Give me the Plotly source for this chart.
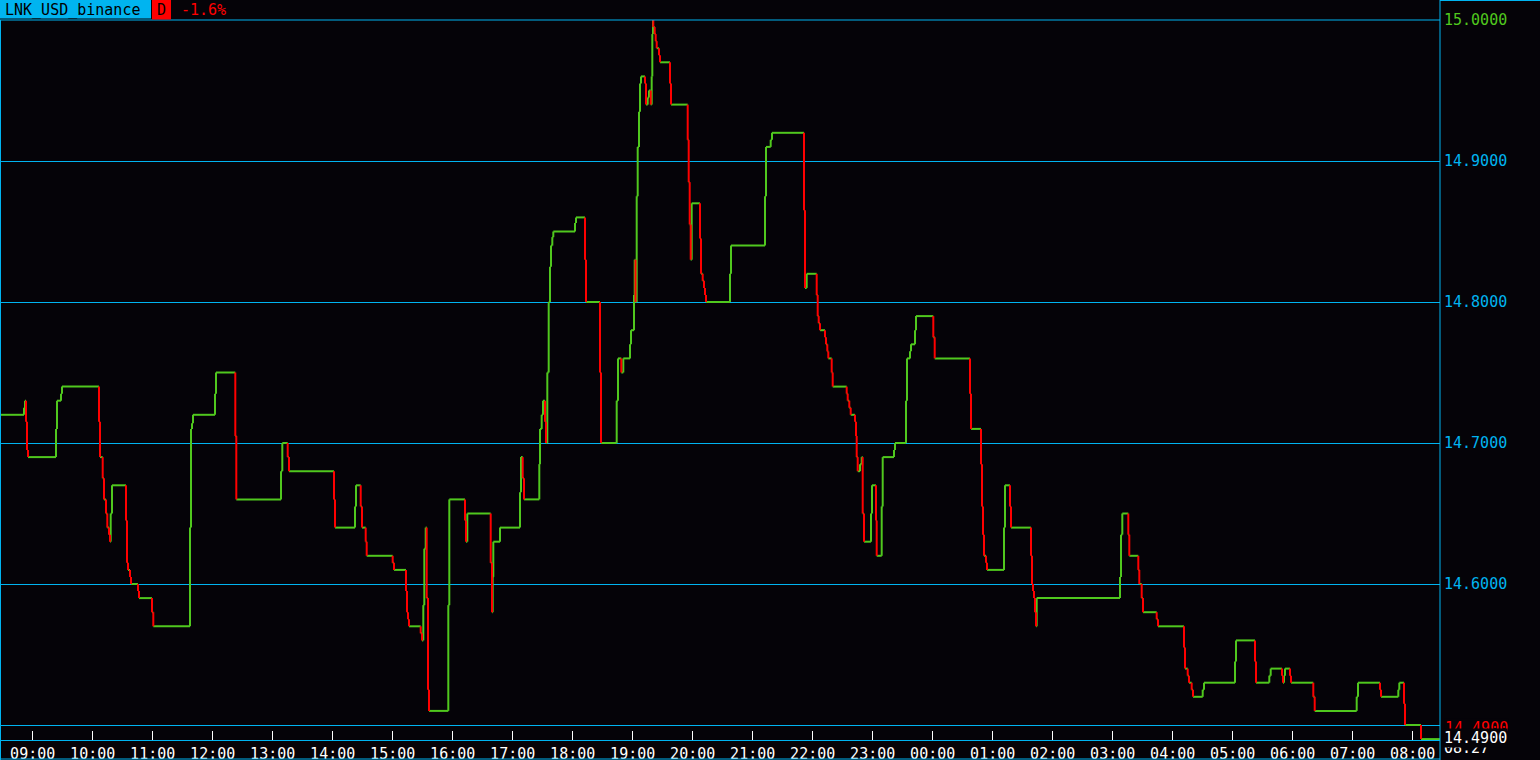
import datetime as dt
import plotly.graph_objects as go

# ---------------- data ----------------
SYMBOL = "LNK_USD_binance"
PERIOD = "D"
CHANGE = "-1.6%"
START_DAY = "2024-05-14"
WINDOW = ["2024-05-14 08:28:18", "2024-05-15 08:27:18"]
LAST_PRICE_LABEL = "14.4900"
LAST_TIME_LABEL = "08:27"

times = [
    "08:28:18", "08:51:18", "08:52:18", "08:53:18", "08:54:18", "08:55:18", "09:23:18", "09:24:18", "09:28:18", "09:29:18",
    "10:06:18", "10:07:18", "10:10:00", "10:11:18", "10:13:18", "10:14:36", "10:16:18", "10:17:18", "10:18:00", "10:19:18",
    "10:33:18", "10:34:18", "10:35:18", "10:37:18", "10:38:18", "10:45:18", "10:46:18", "10:59:18", "11:00:36",
    "11:37:18", "11:38:18", "11:39:18", "11:40:18", "12:02:18", "12:03:18", "12:22:36", "12:23:36",
    "13:08:18", "13:09:36", "13:15:00", "13:16:18",
    "14:01:18", "14:02:18", "14:22:18", "14:23:18", "14:28:00", "14:29:18", "14:33:00", "14:34:00",
    "15:00:00", "15:01:18", "15:13:18", "15:14:18", "15:15:18", "15:16:18",
    "15:28:00", "15:29:18", "15:30:36", "15:31:36", "15:33:00", "15:34:00", "15:35:18", "15:36:18",
    "15:55:36", "15:56:36", "16:12:18", "16:13:18", "16:14:36",
    "16:38:00", "16:39:18", "16:40:00", "16:40:36", "16:47:18",
    "17:07:18", "17:08:18", "17:10:00", "17:11:18",
    "17:26:36", "17:27:18", "17:29:00", "17:30:18", "17:32:18", "17:33:18", "17:34:36", "17:36:00", "17:37:18", "17:38:18", "17:39:36", "17:40:36",
    "18:02:18", "18:03:18", "18:12:18", "18:13:18", "18:27:18", "18:28:18",
    "18:44:00", "18:45:18", "18:48:36", "18:50:36",
    "18:57:18", "18:58:18", "19:01:18", "19:02:00", "19:02:48", "19:04:00", "19:05:00", "19:06:18", "19:07:18", "19:08:18",
    "19:12:18", "19:13:18", "19:15:00", "19:16:18", "19:18:00", "19:19:00", "19:19:36", "19:20:18", "19:20:36", "19:22:00", "19:23:00", "19:24:00", "19:26:18", "19:27:18",
    "19:37:18", "19:38:18",
    "19:55:00", "19:56:00", "19:57:00", "19:58:00", "19:59:00",
    "20:07:18", "20:08:18", "20:10:00", "20:11:18", "20:12:18", "20:13:18",
    "20:37:18", "20:38:18",
    "21:12:18", "21:13:18", "21:18:00", "21:19:18",
    "21:51:18", "21:52:18", "21:54:00",
    "22:04:00", "22:05:00", "22:06:00", "22:07:18", "22:12:18", "22:13:18", "22:14:36", "22:15:36", "22:19:00", "22:20:00",
    "22:34:00", "22:35:00", "22:36:36", "22:38:00", "22:42:18", "22:43:18", "22:44:00", "22:45:00", "22:47:18", "22:49:00", "22:50:00", "22:51:18", "22:58:18", "22:59:18",
    "23:03:18", "23:04:00", "23:09:00", "23:10:00", "23:21:18", "23:22:18", "23:33:18", "23:34:18", "23:37:18", "23:38:18", "23:42:18", "23:43:18",
    "00:00:36", "00:02:00",
    "00:37:18", "00:38:18", "00:48:18", "00:49:18", "00:50:18", "00:51:18", "00:53:18", "00:54:18",
    "01:11:18", "01:12:18", "01:17:18", "01:18:18",
    "01:38:18", "01:39:18", "01:40:18", "01:41:18", "01:42:18", "01:43:18", "01:44:00",
    "03:07:18", "03:08:18", "03:09:36", "03:15:36", "03:16:36", "03:25:36", "03:26:36", "03:29:00", "03:30:18",
    "03:44:00", "03:45:18",
    "04:11:18", "04:12:18", "04:15:00", "04:16:18", "04:19:00", "04:20:18", "04:30:00", "04:31:18",
    "05:02:18", "05:03:18", "05:22:18", "05:23:18", "05:36:36", "05:38:00", "05:49:18", "05:50:18", "05:51:18", "05:52:18", "05:57:18", "05:58:18",
    "06:20:36", "06:22:00", "07:04:00", "07:05:18", "07:27:18", "07:28:18", "07:45:36", "07:46:36", "07:51:18", "07:52:18", "08:08:18", "08:27:18",
]

prices = [
    14.720, 14.725, 14.730, 14.715, 14.695, 14.690, 14.710, 14.730, 14.735, 14.740,
    14.715, 14.690, 14.675, 14.660, 14.650, 14.640, 14.635, 14.630, 14.650, 14.670,
    14.645, 14.615, 14.610, 14.605, 14.600, 14.595, 14.590, 14.580, 14.570,
    14.640, 14.710, 14.714, 14.720, 14.735, 14.750, 14.705, 14.660,
    14.680, 14.700, 14.690, 14.680,
    14.660, 14.640, 14.655, 14.670, 14.655, 14.640, 14.630, 14.620,
    14.615, 14.610, 14.595, 14.580, 14.575, 14.570,
    14.565, 14.560, 14.585, 14.625, 14.640, 14.590, 14.525, 14.510,
    14.585, 14.660, 14.645, 14.630, 14.650,
    14.615, 14.580, 14.605, 14.630, 14.640,
    14.665, 14.690, 14.675, 14.660,
    14.685, 14.710, 14.720, 14.730, 14.715, 14.700, 14.750, 14.800, 14.825, 14.840, 14.846, 14.850,
    14.856, 14.860, 14.830, 14.800, 14.750, 14.700,
    14.730, 14.760, 14.750, 14.760,
    14.770, 14.780, 14.805, 14.830, 14.800, 14.875, 14.910, 14.935, 14.955, 14.960,
    14.955, 14.940, 14.945, 14.950, 14.940, 14.960, 14.990, 15.000, 14.995, 14.990, 14.985, 14.980, 14.975, 14.970,
    14.955, 14.940,
    14.915, 14.885, 14.855, 14.830, 14.870,
    14.845, 14.820, 14.815, 14.810, 14.805, 14.800,
    14.820, 14.840,
    14.875, 14.910, 14.915, 14.920,
    14.865, 14.810, 14.820,
    14.805, 14.790, 14.785, 14.780, 14.775, 14.770, 14.765, 14.760, 14.750, 14.740,
    14.735, 14.730, 14.725, 14.720, 14.715, 14.705, 14.690, 14.680, 14.685, 14.690, 14.650, 14.630, 14.650, 14.670,
    14.645, 14.620, 14.655, 14.690, 14.695, 14.700, 14.730, 14.760, 14.765, 14.770, 14.780, 14.790,
    14.775, 14.760,
    14.735, 14.710, 14.685, 14.655, 14.635, 14.620, 14.615, 14.610,
    14.640, 14.670, 14.655, 14.640,
    14.620, 14.600, 14.595, 14.590, 14.580, 14.570, 14.590,
    14.605, 14.635, 14.650, 14.635, 14.620, 14.610, 14.600, 14.590, 14.580,
    14.575, 14.570,
    14.555, 14.540, 14.535, 14.530, 14.525, 14.520, 14.525, 14.530,
    14.545, 14.560, 14.545, 14.530, 14.535, 14.540, 14.535, 14.530, 14.535, 14.540, 14.535, 14.530,
    14.520, 14.510, 14.520, 14.530, 14.525, 14.520, 14.525, 14.530, 14.515, 14.500, 14.490, 14.490,
]

y_tick_values = [14.5, 14.6, 14.7, 14.8, 14.9, 15.0]
y_tick_labels = ["", "14.6000", "14.7000", "14.8000", "14.9000", "15.0000"]
y_range = [14.48936, 15.0]

assert len(times) == len(prices)

# ---------------- styles ----------------
BG = "#050308"
CYAN = "#00b4f0"
GREEN = "#50c81e"
RED = "#ff0000"
WHITE = "#ffffff"
FONT = "DejaVu Sans Mono"

W, H = 1540, 760
L, R, T, B = 1, 100, 20, 20
PW, PH = W - L - R, H - T - B


def px(x):
    return (x - L) / PW


def py(y):
    return (H - B - y) / PH


def to_datetimes(strings):
    d = dt.date.fromisoformat(START_DAY)
    out, prev = [], None
    for s in strings:
        t = dt.time.fromisoformat(s)
        if prev is not None and t < prev:
            d += dt.timedelta(days=1)
        prev = t
        out.append(dt.datetime.combine(d, t))
    return out


ts = to_datetimes(times)

gx, gy, rx, ry = [], [], [], []
for i in range(len(ts) - 1):
    gx += [ts[i], ts[i + 1], None]
    gy += [prices[i], prices[i], None]
    if prices[i + 1] > prices[i]:
        gx += [ts[i + 1], ts[i + 1], None]
        gy += [prices[i], prices[i + 1], None]
    elif prices[i + 1] < prices[i]:
        rx += [ts[i + 1], ts[i + 1], None]
        ry += [prices[i], prices[i + 1], None]

fig = go.Figure()
fig.add_trace(go.Scatter(x=gx, y=gy, mode="lines", line=dict(color=GREEN, width=2),
                         connectgaps=False, hoverinfo="skip"))
fig.add_trace(go.Scatter(x=rx, y=ry, mode="lines", line=dict(color=RED, width=2),
                         connectgaps=False, hoverinfo="skip"))

ticktext = [
    (f"<span style='color:{GREEN}'>{t}</span>" if v == max(y_tick_values) else t)
    for v, t in zip(y_tick_values, y_tick_labels)
]

fig.update_layout(
    width=W, height=H,
    margin=dict(l=L, r=R, t=T, b=B, pad=0),
    paper_bgcolor=BG, plot_bgcolor=BG,
    showlegend=False, hovermode=False,
    font=dict(family=FONT, size=15, color=WHITE),
)
fig.update_xaxes(
    type="date", range=WINDOW, tick0="2024-05-14 09:00:00", dtick=3600000,
    tickformat="%H:%M", ticks="inside", ticklen=9, tickwidth=1, tickcolor=WHITE,
    tickfont=dict(color=WHITE, family=FONT, size=15),
    showgrid=False, zeroline=False, showline=True, linecolor=CYAN, linewidth=1,
    automargin=False, fixedrange=True,
)
fig.update_yaxes(
    side="right", range=y_range, tickmode="array", tickvals=y_tick_values, ticktext=ticktext,
    ticks="", showgrid=True, gridcolor=CYAN, gridwidth=1, ticklabelstandoff=3,
    tickfont=dict(color=CYAN, family=FONT, size=15),
    zeroline=False, showline=False, automargin=False, fixedrange=True,
)


def line(x0, y0, x1, y1):
    fig.add_shape(type="line", xref="paper", yref="paper",
                  x0=px(x0), y0=py(y0), x1=px(x1), y1=py(y1),
                  line=dict(color=CYAN, width=1), layer="above")


# frame lines
line(0, 20, 1440, 20)
line(0.5, 20, 0.5, 760)
line(1440, 0, 1440, 760)
line(1440, 0.5, 1540, 0.5)
line(0, 759, 1440, 759)

# title bar
fig.add_shape(type="rect", xref="paper", yref="paper", x0=px(0), x1=px(151), y0=py(0), y1=py(18.5),
              fillcolor=CYAN, line=dict(width=0), layer="above")
fig.add_shape(type="rect", xref="paper", yref="paper", x0=px(152), x1=px(171), y0=py(0), y1=py(19.5),
              fillcolor=RED, line=dict(width=0), layer="above")
fig.add_annotation(xref="paper", yref="paper", x=px(3), y=py(10), xanchor="left", yanchor="middle",
                   text=SYMBOL, showarrow=False, font=dict(family=FONT, size=15, color="#000000"))
fig.add_annotation(xref="paper", yref="paper", x=px(161.5), y=py(10), xanchor="center", yanchor="middle",
                   text=PERIOD, showarrow=False, font=dict(family=FONT, size=15, color="#000000"))
fig.add_annotation(xref="paper", yref="paper", x=px(179), y=py(10), xanchor="left", yanchor="middle",
                   text=CHANGE, showarrow=False, font=dict(family=FONT, size=15, color=RED))

# last price / time labels (stacked, each on a black box)
fig.add_annotation(xref="paper", yref="paper", x=px(1443), y=py(748), xanchor="left", yanchor="middle",
                   text=LAST_TIME_LABEL, showarrow=False, bgcolor=BG, borderpad=0,
                   font=dict(family=FONT, size=15, color=WHITE))
fig.add_annotation(xref="paper", yref="paper", x=px(1444), y=py(728), xanchor="left", yanchor="middle",
                   text=LAST_PRICE_LABEL, showarrow=False, bgcolor=BG, borderpad=0,
                   font=dict(family=FONT, size=15, color=RED))
fig.add_annotation(xref="paper", yref="paper", x=px(1443), y=py(738), xanchor="left", yanchor="middle",
                   text=LAST_PRICE_LABEL, showarrow=False, bgcolor=BG, borderpad=0,
                   font=dict(family=FONT, size=15, color=WHITE))

fig.write_html(
    "out.html",
    config={"displayModeBar": False},
    post_script="document.body.style.margin='0';document.body.style.background='" + BG + "';",
)
